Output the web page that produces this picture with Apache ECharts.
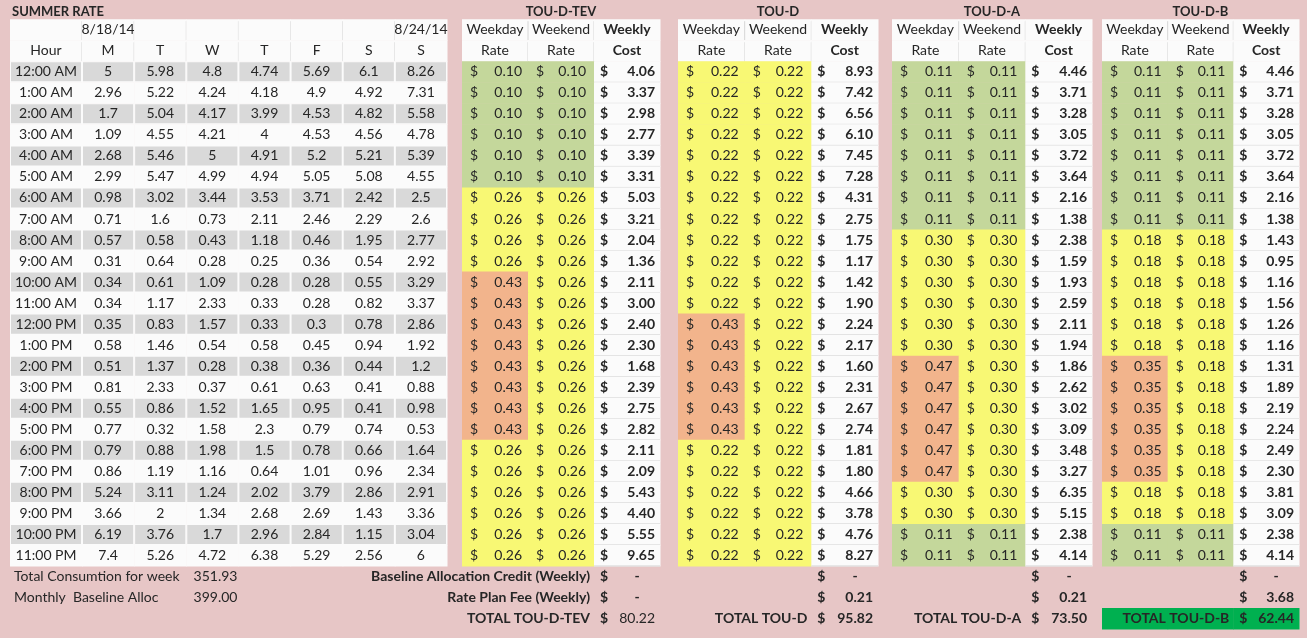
<!DOCTYPE html>
<html>
<head>
<meta charset="utf-8">
<title>Summer Rate</title>
<script src="https://cdn.jsdelivr.net/npm/echarts@6/dist/echarts.min.js"></script>
<style>
html, body { margin: 0; padding: 0; background: #e7c6c6; }
#main { width: 1307px; height: 638px; }
</style>
</head>
<body>
<div id="main"></div>
<script>
// ---- data ----
var hours = ['12:00 AM', '1:00 AM', '2:00 AM', '3:00 AM', '4:00 AM', '5:00 AM', '6:00 AM', '7:00 AM',
  '8:00 AM', '9:00 AM', '10:00 AM', '11:00 AM', '12:00 PM', '1:00 PM', '2:00 PM', '3:00 PM',
  '4:00 PM', '5:00 PM', '6:00 PM', '7:00 PM', '8:00 PM', '9:00 PM', '10:00 PM', '11:00 PM'];
var dayNames = ['M', 'T', 'W', 'T', 'F', 'S', 'S'];
var dayDates = ['8/18/14', '', '', '', '', '', '8/24/14'];

// kWh per hour, one array per day
var kwhMon = [5, 2.96, 1.7, 1.09, 2.68, 2.99, 0.98, 0.71, 0.57, 0.31, 0.34, 0.34, 0.35, 0.58, 0.51, 0.81, 0.55, 0.77, 0.79, 0.86, 5.24, 3.66, 6.19, 7.4];
var kwhTue = [5.98, 5.22, 5.04, 4.55, 5.46, 5.47, 3.02, 1.6, 0.58, 0.64, 0.61, 1.17, 0.83, 1.46, 1.37, 2.33, 0.86, 0.32, 0.88, 1.19, 3.11, 2, 3.76, 5.26];
var kwhWed = [4.8, 4.24, 4.17, 4.21, 5, 4.99, 3.44, 0.73, 0.43, 0.28, 1.09, 2.33, 1.57, 0.54, 0.28, 0.37, 1.52, 1.58, 1.98, 1.16, 1.24, 1.34, 1.7, 4.72];
var kwhThu = [4.74, 4.18, 3.99, 4, 4.91, 4.94, 3.53, 2.11, 1.18, 0.25, 0.28, 0.33, 0.33, 0.58, 0.38, 0.61, 1.65, 2.3, 1.5, 0.64, 2.02, 2.68, 2.96, 6.38];
var kwhFri = [5.69, 4.9, 4.53, 4.53, 5.2, 5.05, 3.71, 2.46, 0.46, 0.36, 0.28, 0.28, 0.3, 0.45, 0.36, 0.63, 0.95, 0.79, 0.78, 1.01, 3.79, 2.69, 2.84, 5.29];
var kwhSat = [6.1, 4.92, 4.82, 4.56, 5.21, 5.08, 2.42, 2.29, 1.95, 0.54, 0.55, 0.82, 0.78, 0.94, 0.44, 0.41, 0.41, 0.74, 0.66, 0.96, 2.86, 1.43, 1.15, 2.56];
var kwhSun = [8.26, 7.31, 5.58, 4.78, 5.39, 4.55, 2.5, 2.6, 2.77, 2.92, 3.29, 3.37, 2.86, 1.92, 1.2, 0.88, 0.98, 0.53, 1.64, 2.34, 2.91, 3.36, 3.04, 6];
var weekTotal = '351.93';
var baselineAlloc = '399.00';

// rate plans: weekday rate, weekend rate, weekly cost ($)
var tevWeekday = [0.10, 0.10, 0.10, 0.10, 0.10, 0.10, 0.26, 0.26, 0.26, 0.26, 0.43, 0.43, 0.43, 0.43, 0.43, 0.43, 0.43, 0.43, 0.26, 0.26, 0.26, 0.26, 0.26, 0.26];
var tevWeekend = [0.10, 0.10, 0.10, 0.10, 0.10, 0.10, 0.26, 0.26, 0.26, 0.26, 0.26, 0.26, 0.26, 0.26, 0.26, 0.26, 0.26, 0.26, 0.26, 0.26, 0.26, 0.26, 0.26, 0.26];
var tevCost = [4.06, 3.37, 2.98, 2.77, 3.39, 3.31, 5.03, 3.21, 2.04, 1.36, 2.11, 3.00, 2.40, 2.30, 1.68, 2.39, 2.75, 2.82, 2.11, 2.09, 5.43, 4.40, 5.55, 9.65];

var touDWeekday = [0.22, 0.22, 0.22, 0.22, 0.22, 0.22, 0.22, 0.22, 0.22, 0.22, 0.22, 0.22, 0.43, 0.43, 0.43, 0.43, 0.43, 0.43, 0.22, 0.22, 0.22, 0.22, 0.22, 0.22];
var touDWeekend = [0.22, 0.22, 0.22, 0.22, 0.22, 0.22, 0.22, 0.22, 0.22, 0.22, 0.22, 0.22, 0.22, 0.22, 0.22, 0.22, 0.22, 0.22, 0.22, 0.22, 0.22, 0.22, 0.22, 0.22];
var touDCost = [8.93, 7.42, 6.56, 6.10, 7.45, 7.28, 4.31, 2.75, 1.75, 1.17, 1.42, 1.90, 2.24, 2.17, 1.60, 2.31, 2.67, 2.74, 1.81, 1.80, 4.66, 3.78, 4.76, 8.27];

var touAWeekday = [0.11, 0.11, 0.11, 0.11, 0.11, 0.11, 0.11, 0.11, 0.30, 0.30, 0.30, 0.30, 0.30, 0.30, 0.47, 0.47, 0.47, 0.47, 0.47, 0.47, 0.30, 0.30, 0.11, 0.11];
var touAWeekend = [0.11, 0.11, 0.11, 0.11, 0.11, 0.11, 0.11, 0.11, 0.30, 0.30, 0.30, 0.30, 0.30, 0.30, 0.30, 0.30, 0.30, 0.30, 0.30, 0.30, 0.30, 0.30, 0.11, 0.11];
var touACost = [4.46, 3.71, 3.28, 3.05, 3.72, 3.64, 2.16, 1.38, 2.38, 1.59, 1.93, 2.59, 2.11, 1.94, 1.86, 2.62, 3.02, 3.09, 3.48, 3.27, 6.35, 5.15, 2.38, 4.14];

var touBWeekday = [0.11, 0.11, 0.11, 0.11, 0.11, 0.11, 0.11, 0.11, 0.18, 0.18, 0.18, 0.18, 0.18, 0.18, 0.35, 0.35, 0.35, 0.35, 0.35, 0.35, 0.18, 0.18, 0.11, 0.11];
var touBWeekend = [0.11, 0.11, 0.11, 0.11, 0.11, 0.11, 0.11, 0.11, 0.18, 0.18, 0.18, 0.18, 0.18, 0.18, 0.18, 0.18, 0.18, 0.18, 0.18, 0.18, 0.18, 0.18, 0.11, 0.11];
var touBCost = [4.46, 3.71, 3.28, 3.05, 3.72, 3.64, 2.16, 1.38, 1.43, 0.95, 1.16, 1.56, 1.26, 1.16, 1.31, 1.89, 2.19, 2.24, 2.49, 2.30, 3.81, 3.09, 2.38, 4.14];

// footer: baseline credit, rate plan fee, total (null = "-")
var footLabels = ['Baseline Allocation Credit (Weekly)', 'Rate Plan Fee (Weekly)'];
var tevFoot = [null, null, 80.22];
var touDFoot = [null, 0.21, 95.82];
var touAFoot = [null, 0.21, 73.50];
var touBFoot = [null, 3.68, 62.44];

// ---- look ----
var C = {
  bg: '#e7c6c6', white: '#fbfbfb', gray: '#d9d9d9', line: '#d6d6d6',
  green: '#c4d79b', yellow: '#f8f874', orange: '#f2b48c', total: '#00b050', text: '#262626'
};
var FONT = 'Lato, "Open Sans", sans-serif';

function rateColor(r) {
  if (r <= 0.11) return C.green;
  if (r < 0.33) return C.yellow;
  return C.orange;
}

// rows: 2 header rows, 24 hours, 3 footer rows
var rowKeys = ['h1', 'h2'].concat(hours).concat(['f1', 'f2', 'f3']);
var GRID_TOP = 19.2, GRID_H = 29 * 21.03;

function T(t, at, pad, bold, extra) {
  var o = { t: t, at: at, pad: pad || 0, bold: !!bold };
  if (extra) for (var k in extra) o[k] = extra[k];
  return o;
}

// 画单元格
function makeRender(cells) {
  return function (params, api) {
    var cell = cells[params.dataIndex];
    var p = api.coord([cell.col, cell.row]);
    var s = api.size([1, 1]);
    var w = s[0], h = s[1];
    var x0 = p[0] - w / 2, y0 = p[1] - h / 2;
    var kids = [];
    if (cell.bg) {
      kids.push({ type: 'rect', shape: { x: x0, y: y0, width: w + 0.5, height: h + 0.5 }, style: { fill: cell.bg } });
    }
    if (cell.fill) {
      kids.push({ type: 'rect', shape: { x: x0 + 1, y: y0 + 1, width: w - 2, height: h - 2 }, style: { fill: cell.fill } });
    }
    if (cell.lineRight) {
      kids.push({ type: 'line', shape: { x1: x0 + w, y1: y0 + 2, x2: x0 + w, y2: y0 + h }, style: { stroke: C.line, lineWidth: 1 } });
    }
    if (cell.lineBottom) {
      kids.push({ type: 'line', shape: { x1: x0, y1: y0 + h, x2: x0 + w, y2: y0 + h }, style: { stroke: C.line, lineWidth: 1 } });
    }
    (cell.texts || []).forEach(function (tx) {
      var x, align;
      if (tx.at === 'left') { x = x0 + tx.pad; align = 'left'; }
      else if (tx.at === 'right') { x = x0 + w - tx.pad; align = 'right'; }
      else if (tx.at === 'dash') { x = x0 + w - 23; align = 'center'; }
      else { x = p[0]; align = 'center'; }
      kids.push({
        type: 'text',
        style: {
          text: tx.t, x: x, y: p[1] + (tx.dy || 0),
          align: align, verticalAlign: 'middle', textAlign: align, textVerticalAlign: 'middle',
          fontFamily: FONT, fontSize: tx.size || 14, fontWeight: tx.bold ? 'bold' : 'normal',
          fill: C.text
        }
      });
    });
    return { type: 'group', children: kids };
  };
}

// ---- build grids ----
var grids = [], xAxes = [], yAxes = [], series = [];

function addTable(left, width, columns, cells) {
  var idx = grids.length;
  grids.push({ left: left, top: GRID_TOP, width: width, height: GRID_H });
  xAxes.push({ type: 'category', gridIndex: idx, data: columns, show: false });
  yAxes.push({ type: 'category', gridIndex: idx, data: rowKeys, inverse: true, show: false });
  series.push({
    type: 'custom', xAxisIndex: idx, yAxisIndex: idx,
    renderItem: makeRender(cells),
    encode: { x: 0, y: 1 },
    data: cells.map(function (c) { return [c.col, c.row]; }),
    silent: true, animation: false
  });
}

// hour column
var hourCells = [
  { col: 0, row: 0, bg: C.white, lineRight: true, texts: [T('SUMMER RATE', 'left', 2, true, { dy: -18, size: 13 })] },
  { col: 0, row: 1, bg: C.white, lineRight: true, texts: [T('Hour', 'center')] }
];
hours.forEach(function (hr, i) {
  hourCells.push({ col: 0, row: 2 + i, bg: C.white, fill: i % 2 === 0 ? C.gray : null, texts: [T(hr, 'center')] });
});
hourCells.push({ col: 0, row: 26, texts: [T('Total Consumtion for week', 'left', 4)] });
hourCells.push({ col: 0, row: 27, texts: [T('Monthly  Baseline Alloc', 'left', 4)] });
addTable(10, 72, ['Hour'], hourCells);

// day columns
var kwhByDay = [kwhMon, kwhTue, kwhWed, kwhThu, kwhFri, kwhSat, kwhSun];
var dayCells = [];
dayNames.forEach(function (d, c) {
  dayCells.push({ col: c, row: 0, bg: C.white, lineRight: c < 6, texts: dayDates[c] ? [T(dayDates[c], 'center')] : [] });
  dayCells.push({ col: c, row: 1, bg: C.white, lineRight: c < 6, texts: [T(d, 'center')] });
  kwhByDay[c].forEach(function (v, i) {
    dayCells.push({ col: c, row: 2 + i, bg: C.white, fill: i % 2 === 0 ? C.gray : null, texts: [T(String(v), 'center')] });
  });
});
dayCells.push({ col: 2, row: 26, texts: [T(weekTotal, 'right', 1)] });
dayCells.push({ col: 2, row: 27, texts: [T(baselineAlloc, 'right', 1)] });
addTable(82, 365, ['M', 'T', 'W', 'Th', 'F', 'Sa', 'Su'], dayCells);

// rate plan tables
function planCells(name, weekday, weekend, cost, foot, showLabels, totalFill, totalBold) {
  var cells = [
    { col: 1, row: 0, bg: C.white, lineRight: true, texts: [T('Weekend', 'center'), T(name, 'center', 0, true, { dy: -18, size: 13 })] },
    { col: 0, row: 0, bg: C.white, lineRight: true, texts: [T('Weekday', 'center')] },
    { col: 2, row: 0, bg: C.white, texts: [T('Weekly', 'center', 0, true)] },
    { col: 0, row: 1, bg: C.white, lineRight: true, texts: [T('Rate', 'center')] },
    { col: 1, row: 1, bg: C.white, lineRight: true, texts: [T('Rate', 'center')] },
    { col: 2, row: 1, bg: C.white, texts: [T('Cost', 'center', 0, true)] }
  ];
  hours.forEach(function (hr, i) {
    cells.push({ col: 0, row: 2 + i, bg: rateColor(weekday[i]), texts: [T('$', 'left', 8), T(weekday[i].toFixed(2), 'right', 6)] });
    cells.push({ col: 1, row: 2 + i, bg: rateColor(weekend[i]), texts: [T('$', 'left', 8), T(weekend[i].toFixed(2), 'right', 8)] });
    cells.push({ col: 2, row: 2 + i, bg: C.white, lineBottom: true, texts: [T('$', 'left', 6, true), T(cost[i].toFixed(2), 'right', 5, true)] });
  });
  foot.forEach(function (v, k) {
    var row = 26 + k;
    var isTotal = k === 2;
    var bold = isTotal ? totalBold : true;
    if (isTotal && totalFill) {
      cells.push({ col: 0, row: row, bg: totalFill });
    }
    if (isTotal) {
      cells.push({ col: 1, row: row, bg: totalFill || null, texts: [T('TOTAL ' + name, 'right', 4, true)] });
    } else if (showLabels) {
      cells.push({ col: 1, row: row, texts: [T(footLabels[k], 'right', 4, true)] });
    }
    var vt = v === null ? T('-', 'dash', 0, true) : T(v.toFixed(2), 'right', 5, bold);
    cells.push({ col: 2, row: row, bg: isTotal ? (totalFill || null) : null, texts: [T('$', 'left', 6, true), vt] });
  });
  return cells;
}

var planCols = ['Weekday', 'Weekend', 'Weekly'];
addTable(462, 198, planCols, planCells('TOU-D-TEV', tevWeekday, tevWeekend, tevCost, tevFoot, true, null, false));
addTable(678, 200, planCols, planCells('TOU-D', touDWeekday, touDWeekend, touDCost, touDFoot, false, null, true));
addTable(892, 200, planCols, planCells('TOU-D-A', touAWeekday, touAWeekend, touACost, touAFoot, false, null, true));
addTable(1102, 197, planCols, planCells('TOU-D-B', touBWeekday, touBWeekend, touBCost, touBFoot, false, C.total, true));

var chart = echarts.init(document.getElementById('main'));
chart.setOption({
  backgroundColor: C.bg,
  animation: false,
  grid: grids,
  xAxis: xAxes,
  yAxis: yAxes,
  series: series
});
</script>
</body>
</html>
